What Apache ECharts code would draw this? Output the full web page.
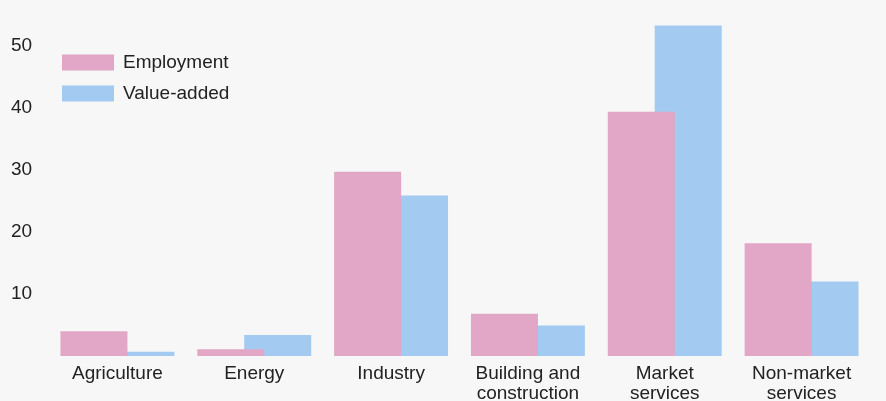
<!DOCTYPE html>
<html>
<head>
<meta charset="utf-8">
<script src="https://cdn.jsdelivr.net/npm/echarts@6/dist/echarts.min.js"></script>
<style>
  html, body { margin: 0; padding: 0; background: #f7f7f7; }
  #chart { width: 886px; height: 401px; }
</style>
</head>
<body>
<div id="chart"></div>
<script>
// 数据
const sectors = ["Agriculture", "Energy", "Industry", "Building and\nconstruction", "Market\nservices", "Non-market\nservices"];
const employment = [4.0, 1.1, 29.7, 6.8, 39.4, 18.2];
const valueAdded = [0.7, 3.4, 25.9, 4.9, 53.3, 12.0];

const chart = echarts.init(document.getElementById("chart"));

chart.setOption({
  backgroundColor: "#f7f7f7",
  animation: false,
  textStyle: { fontFamily: "Liberation Sans, Arial, sans-serif" },
  grid: { left: 49, right: 16, top: 15, bottom: 45, outerBoundsMode: "none" },
  legend: {
    orient: "vertical",
    left: 62,
    top: 53,
    padding: 0,
    icon: "rect",
    itemWidth: 52,
    itemHeight: 16,
    itemGap: 12,
    textStyle: { fontSize: 19, color: "#222", padding: [0, 0, 0, 4] },
    data: ["Employment", "Value-added"],
  },
  xAxis: {
    type: "category",
    data: sectors,
    axisLine: { show: false },
    axisTick: { show: false },
    axisLabel: { fontSize: 19, color: "#222", margin: 8, lineHeight: 20, interval: 0 },
  },
  yAxis: {
    type: "value",
    min: 0,
    max: 55,
    interval: 10,
    splitLine: { show: false },
    axisLine: { show: false },
    axisLabel: {
      fontSize: 19,
      color: "#222",
      align: "left",
      margin: 38,
      formatter: (v) => (v === 0 || v === 55 ? "" : v),
    },
  },
  series: [
    {
      name: "Employment",
      type: "bar",
      data: employment,
      barWidth: 67,
      barGap: "-30%",
      z: 3,
      itemStyle: { color: "#e2a7c6" },
    },
    {
      name: "Value-added",
      type: "bar",
      data: valueAdded,
      barWidth: 67,
      barGap: "-30%",
      z: 2,
      itemStyle: { color: "#a3caf1" },
    },
  ],
});
</script>
</body>
</html>
